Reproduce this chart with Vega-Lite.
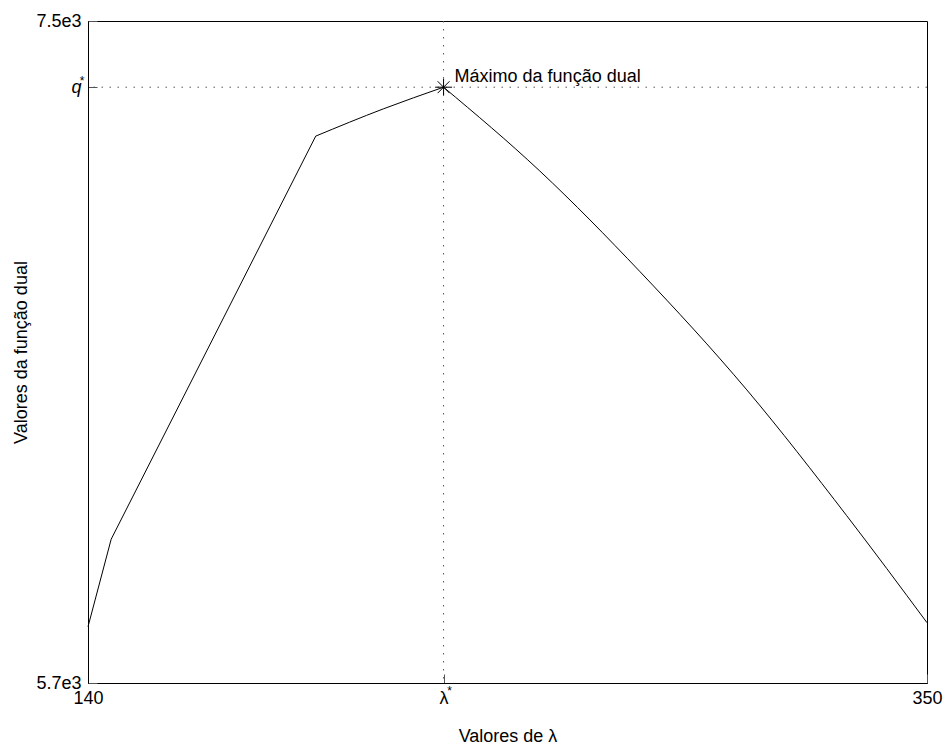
{
  "$schema": "https://vega.github.io/schema/vega-lite/v6.json",
  "width": 839,
  "height": 662,
  "autosize": "none",
  "padding": {"left": 88, "top": 21, "right": 18, "bottom": 64},
  "background": "white",
  "config": {
    "view": {"stroke": "black", "strokeWidth": 1},
    "font": "Liberation Sans",
    "axis": {
      "domainColor": "black",
      "domainWidth": 1,
      "grid": false,
      "labelFont": "Liberation Sans",
      "labelFontSize": 18,
      "labelColor": "black",
      "labelFlush": false,
      "labelOverlap": false,
      "titleFont": "Liberation Sans",
      "titleFontSize": 18,
      "titleFontWeight": "normal",
      "titleColor": "black",
      "tickColor": "#555",
      "tickSize": -9
    }
  },
  "datasets": {
    "curve": [
      {"segment": "a", "lambda": 140, "q": 5853},
      {"segment": "a", "lambda": 145.8, "q": 6091},
      {"segment": "b", "lambda": 145.8, "q": 6091},
      {"segment": "b", "lambda": 197.0, "q": 7187},
      {"segment": "c", "lambda": 197.0, "q": 7187},
      {"segment": "c", "lambda": 213.9, "q": 7261},
      {"segment": "c", "lambda": 229, "q": 7320},
      {"segment": "d", "lambda": 229, "q": 7320},
      {"segment": "d", "lambda": 253.1, "q": 7092},
      {"segment": "d", "lambda": 278.2, "q": 6818},
      {"segment": "d", "lambda": 304.9, "q": 6497},
      {"segment": "d", "lambda": 329.9, "q": 6155},
      {"segment": "d", "lambda": 350, "q": 5864}
    ],
    "maximum": [
      {"lambda": 229, "q": 7320, "label": "Máximo da função dual"}
    ]
  },
  "layer": [
    {
      "data": {"name": "maximum"},
      "mark": {"type": "rule", "color": "#555", "strokeDash": [1.5, 6.5], "strokeWidth": 1},
      "encoding": {"x": {"field": "lambda", "type": "quantitative"}}
    },
    {
      "data": {"name": "maximum"},
      "mark": {"type": "rule", "color": "#555", "strokeDash": [1.5, 6.5], "strokeWidth": 1},
      "encoding": {"y": {"field": "q", "type": "quantitative"}}
    },
    {
      "data": {"name": "curve"},
      "mark": {"type": "line", "color": "black", "strokeWidth": 1, "interpolate": "monotone"},
      "encoding": {
        "detail": {"field": "segment"},
        "x": {
          "field": "lambda",
          "type": "quantitative",
          "scale": {"domain": [140, 350], "nice": false, "zero": false},
          "axis": {
            "values": [140, 229, 350],
            "labelExpr": "datum.value == 229 ? 'λ' : datum.label",
            "format": "d",
            "labelPadding": 15,
            "title": "Valores de λ",
            "titlePadding": 20
          }
        },
        "y": {
          "field": "q",
          "type": "quantitative",
          "scale": {"domain": [5700, 7500], "nice": false, "zero": false},
          "axis": {
            "values": [5700, 7320, 7500],
            "labelExpr": "datum.value == 7320 ? 'q' : (datum.value == 5700 ? '5.7e3' : '7.5e3')",
            "labelFontStyle": {"condition": {"test": "datum.value == 7320", "value": "italic"}, "value": "normal"},
            "labelPadding": 16,
            "title": "Valores da função dual",
            "titlePadding": 5
          }
        }
      }
    },
    {
      "data": {"name": "maximum"},
      "mark": {
        "type": "point",
        "shape": "M-1,0L1,0M0,-1L0,1M-0.7,-0.7L0.7,0.7M-0.7,0.7L0.7,-0.7",
        "size": 289,
        "stroke": "black",
        "strokeWidth": 1,
        "filled": false,
        "opacity": 1
      },
      "encoding": {
        "x": {"field": "lambda", "type": "quantitative"},
        "y": {"field": "q", "type": "quantitative"}
      }
    },
    {
      "data": {"name": "maximum"},
      "mark": {"type": "text", "align": "left", "baseline": "alphabetic", "dx": 11, "dy": -5, "fontSize": 18, "font": "Liberation Sans", "color": "black"},
      "encoding": {
        "x": {"field": "lambda", "type": "quantitative"},
        "y": {"field": "q", "type": "quantitative"},
        "text": {"field": "label"}
      }
    },
    {
      "data": {"name": "maximum"},
      "mark": {"type": "text", "align": "center", "baseline": "middle", "dx": -6, "dy": -6, "fontSize": 12, "font": "Liberation Sans", "color": "black", "text": "*"},
      "encoding": {
        "x": {"datum": 140, "type": "quantitative"},
        "y": {"field": "q", "type": "quantitative"}
      }
    },
    {
      "data": {"name": "maximum"},
      "mark": {"type": "text", "align": "center", "baseline": "middle", "dx": 6, "dy": 8, "fontSize": 12, "font": "Liberation Sans", "color": "black", "text": "*"},
      "encoding": {
        "x": {"field": "lambda", "type": "quantitative"},
        "y": {"datum": 5700, "type": "quantitative"}
      }
    }
  ]
}
